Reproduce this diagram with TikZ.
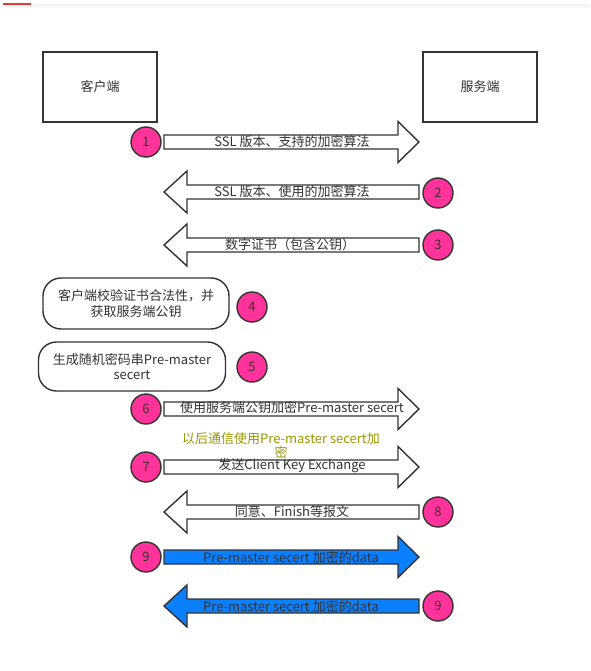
\documentclass[tikz,border=0pt]{standalone}
\usepackage{fontspec}
\setmainfont{Noto Sans CJK SC}
\definecolor{dk}{HTML}{333333}
\definecolor{pinkc}{HTML}{FF3399}
\definecolor{bluec}{HTML}{0A80FF}
\definecolor{olivec}{HTML}{999900}
\definecolor{redbar}{HTML}{E53935}
\newcommand\myRA[2]{\draw[arr,fill=#2] (164,#1-7) -- (398,#1-7) -- (398,#1-20.5) -- (419,#1) -- (398,#1+20.5) -- (398,#1+7) -- (164,#1+7) -- cycle;}
\newcommand\myLA[2]{\draw[arr,fill=#2] (419,#1-7) -- (187,#1-7) -- (187,#1-21) -- (164,#1) -- (187,#1+21) -- (187,#1+7) -- (419,#1+7) -- cycle;}
\begin{document}
\begin{tikzpicture}[x=1pt,y=-1pt,
  arr/.style={draw=dk,line width=1.4pt,line join=miter},
  num/.style={circle,minimum size=30pt,inner sep=0pt,fill=pinkc,draw=dk,line width=1.4pt,text=dk,font=\fontsize{13}{15}\selectfont},
  lbl/.style={text=dk,inner sep=0pt,font=\fontsize{13}{15}\selectfont},
  sqbox/.style={draw=dk,line width=1.8pt,minimum width=114pt,minimum height=70pt,inner sep=0pt,text=dk,font=\fontsize{13}{15}\selectfont},
  rbox/.style={draw=dk,line width=1.4pt,rounded corners=18pt,inner sep=0pt,align=center,text=dk,font=\fontsize{13}{15.5}\selectfont}
]
\useasboundingbox (0,0) rectangle (590,671);
\fill[white] (0,0) rectangle (590,671);
% top bar
\fill[gray!10] (3,4.5) rectangle (590,6.5);
\fill[gray!5] (3,6.5) rectangle (590,8.5);
\fill[redbar] (3,3) rectangle (31,5);
% participants
\node[sqbox] (client) at (100,87) {客户端};
\node[sqbox] (server) at (480,87) {服务端};
% arrows
\myRA{142}{white}
\myLA{192}{white}
\myLA{245}{white}
\myRA{409}{white}
\myRA{467}{white}
\myLA{512}{white}
\myRA{557}{bluec}
\myLA{606}{bluec}
% arrow labels
\node[lbl] (t1) at (292,142) {SSL 版本、支持的加密算法};
\node[lbl] (t2) at (292,192) {SSL 版本、使用的加密算法};
\node[lbl] (t3) at (290,245) {数字证书（包含公钥）};
\node[lbl] (t6) at (292,408) {使用服务端公钥加密Pre-master secert};
\node[lbl,text=olivec,align=center,font=\fontsize{13}{14}\selectfont] (t7a) at (281,446) {以后通信使用Pre-master secert加\\密};
\node[lbl] (t7) at (292,466) {发送Client Key Exchange};
\node[lbl] (t8) at (292,512) {同意、Finish等报文};
\node[lbl] (t9a) at (291,557) {Pre-master secert 加密的data};
\node[lbl] (t9b) at (291,606) {Pre-master secert 加密的data};
% rounded boxes
\node[rbox,minimum width=186pt,minimum height=51pt] (b4) at (136,303.5) {客户端校验证书合法性，并\\获取服务端公钥};
\node[rbox,minimum width=187pt,minimum height=49pt] (b5) at (132,366.5) {生成随机密码串Pre-master\\secert};
% numbers
\node[num] (c1) at (146,142) {1};
\node[num] (c2) at (438,193) {2};
\node[num] (c3) at (438,245) {3};
\node[num] (c4) at (252,307) {4};
\node[num] (c5) at (252,367) {5};
\node[num] (c6) at (146,409) {6};
\node[num] (c7) at (146,467) {7};
\node[num] (c8) at (438,512) {8};
\node[num] (c9a) at (146,557) {9};
\node[num] (c9b) at (438,606) {9};
\end{tikzpicture}
\end{document}
